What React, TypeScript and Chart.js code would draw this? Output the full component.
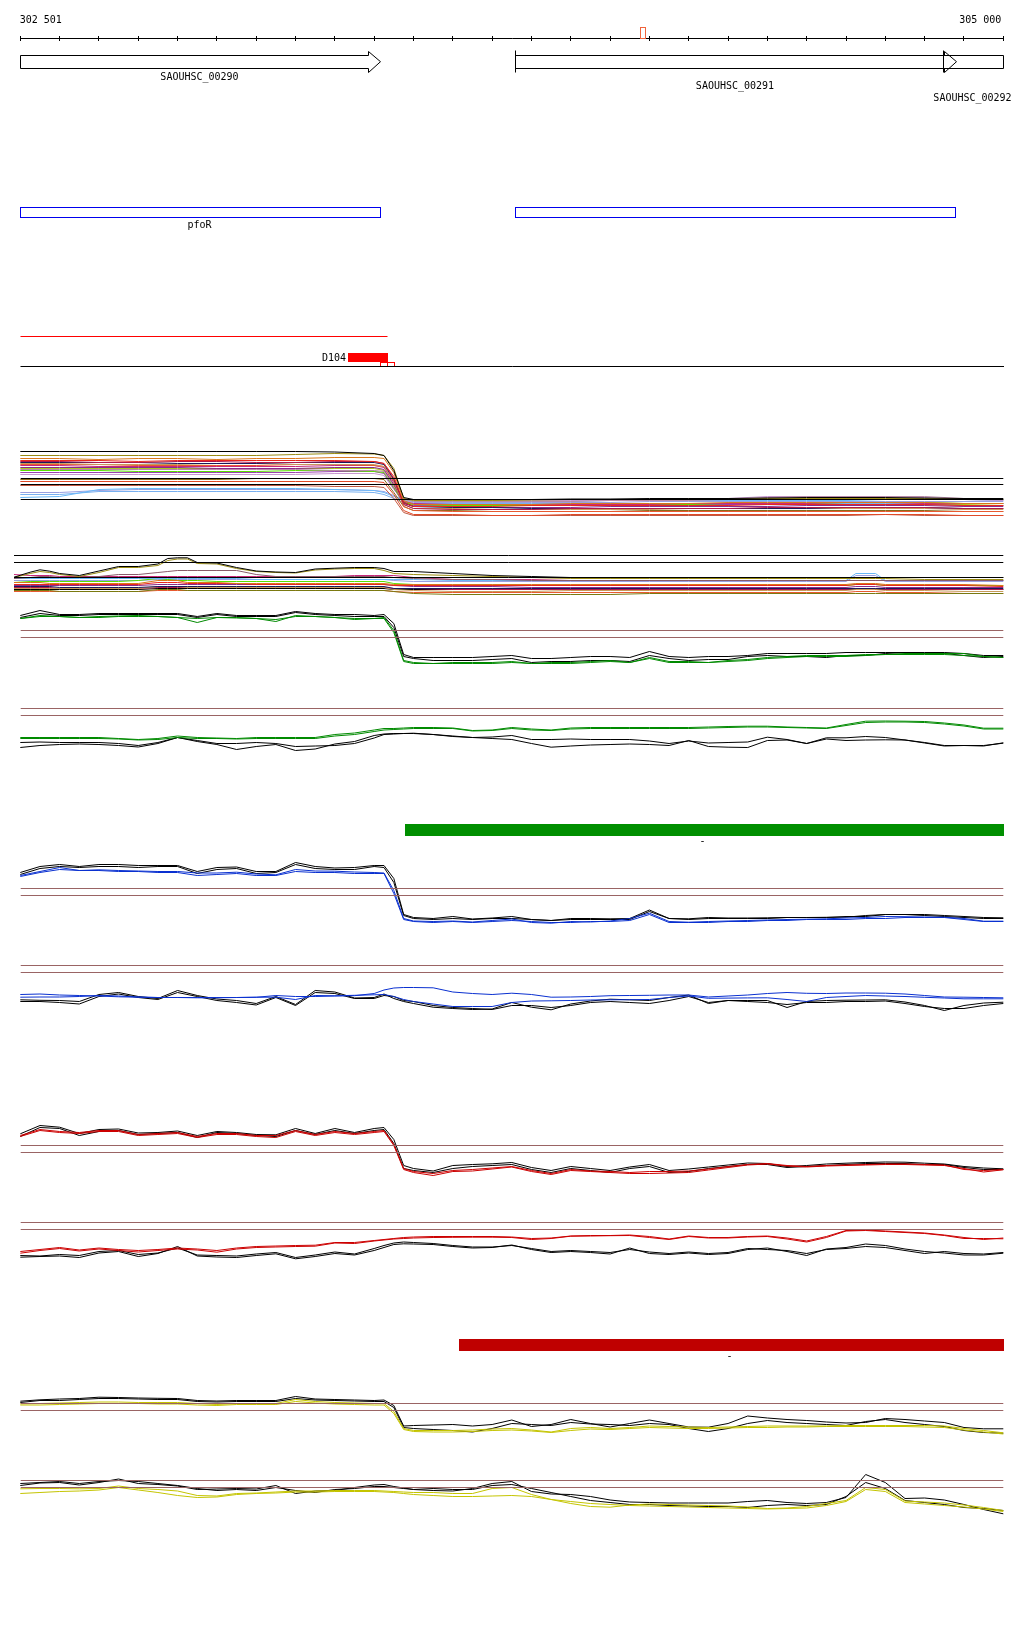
import React, { useEffect, useRef } from "react";
import { Chart, registerables } from "chart.js";

Chart.register(...registerables);

// ---------------- genome window ----------------
const VIEW_START = 302501;
const VIEW_END = 305000;
const RULER_TICKS = [302500, 302600, 302700, 302800, 302900, 303000, 303100, 303200, 303300, 303400, 303500, 303600, 303700, 303800, 303900, 304000, 304100, 304200, 304300, 304400, 304500, 304600, 304700, 304800, 304900, 305000];

// ---------------- annotation tracks ----------------
const GENE_NAMES = ["SAOUHSC_00290", "SAOUHSC_00291", "SAOUHSC_00292"];
const GENE_STARTS = [301820, 303759, 304848];
const GENE_ENDS = [303417, 304880, 305640];

const TU_NAMES = ["pfoR", ""];
const TU_STARTS = [301820, 303759];
const TU_ENDS = [303417, 304879];

const SEGMENT_STARTS = [301820];
const SEGMENT_ENDS = [303434];
const PEAK_LABELS = ["D104"];
const PEAK_STARTS = [303333];
const PEAK_ENDS = [303434];
const SITE_STARTS = [303415, 303434];
const SITE_ENDS = [303434, 303452];
const MARK_STARTS = [304077];
const MARK_ENDS = [304091];

const BAR_LABELS = ["-", "-"];
const BAR_STARTS = [303478, 303616];
const BAR_ENDS = [305600, 305600];

// ---------------- expression profiles ----------------
const THRESH_POS = [302501, 305000];
const THRESH_HI = [0, 0];
const THRESH_LO = [-7, -7];

const MCU_REF_POS = [302501, 305000];
const MCL_REF_POS = [302484, 305000];
const MCU_REF_LEVELS = [6, 0, -15];
const MCL_REF_LEVELS = [7, 0, -15];

// many-condition profile, + strand
const MCU_POS = [302500, 302600, 302700, 302800, 302900, 303000, 303100, 303200, 303300, 303400, 303425, 303450, 303475, 303500, 303600, 303700, 303800, 303900, 304000, 304100, 304200, 304300, 304400, 304500, 304600, 304700, 304800, 304900, 305000];
const MCU_01 = [33, 33, 33, 33, 33, 33, 33, 33, 32.5, 31, 29, 14, -13, -15, -15, -15, -15, -14.5, -14.5, -14, -14, -14, -13.5, -13, -13, -13, -13.5, -14, -14];
const MCU_02 = [29, 29, 29, 29, 29, 29, 29, 30, 31, 30.5, 29, 16, -14, -16, -16, -16, -15.5, -15, -15, -15, -14.5, -14.5, -14, -14, -14, -14, -14, -14.5, -15];
const MCU_03 = [26, 26, 25, 26, 26, 25, 26, 26, 27, 27, 26, 12, -16, -20, -20, -20, -20, -19, -19, -19, -19, -18, -18, -18, -18, -18, -18, -19, -19];
const MCU_04 = [24, 24, 24, 23, 24, 24, 24, 24, 24, 23, 21, 8, -18, -22, -22, -22, -21, -21, -21, -21, -21, -21, -20, -20, -20, -20, -20, -21, -21];
const MCU_05 = [23, 23, 22, 22, 23, 23, 22, 22, 23, 23, 21, 6, -20, -24, -25, -25, -25, -24, -24, -24, -24, -24, -23, -23, -23, -23, -23, -24, -24];
const MCU_06 = [22, 22, 22, 22, 21, 21, 21, 22, 22, 22, 20, 5, -18, -22, -23, -23, -24, -24, -24, -24, -24, -24, -24, -24, -23, -23, -23, -24, -24];
const MCU_07 = [21, 21, 20, 20, 20, 21, 21, 20, 20, 20, 18, 4, -20, -24, -24, -25, -25, -25, -25, -25, -24, -24, -24, -24, -24, -24, -24, -25, -25];
const MCU_08 = [20, 20, 20, 19, 19, 19, 19, 20, 20, 19, 18, 3, -22, -26, -27, -27, -27, -27, -27, -27, -27, -27, -27, -27, -27, -27, -27, -27, -27];
const MCU_09 = [19, 19, 18, 18, 18, 18, 18, 18, 19, 19, 17, 2, -17, -19, -20, -20, -20, -20, -20, -20, -19, -19, -19, -19, -18, -18, -19, -19, -19];
const MCU_10 = [17, 17, 17, 17, 17, 16, 16, 16, 17, 17, 15, 0, -19, -22, -22, -23, -23, -23, -22, -22, -22, -22, -22, -21, -21, -21, -21, -22, -22];
const MCU_11 = [15, 15, 15, 15, 15, 15, 15, 15, 14, 14, 13, -2, -15, -17, -17, -17, -17, -17, -16, -16, -16, -15, -13, -12, -12, -12, -12, -14, -15];
const MCU_12 = [14, 14, 14, 13, 13, 13, 13, 14, 14, 13, 12, -3, -18, -20, -21, -21, -21, -20, -20, -20, -20, -19, -19, -19, -18, -18, -18, -19, -19];
const MCU_13 = [12, 12, 12, 12, 12, 12, 12, 12, 13, 13, 11, -4, -19, -21, -21, -21, -21, -21, -21, -21, -20, -20, -20, -20, -20, -20, -20, -21, -21];
const MCU_14 = [10, 10, 10, 10, 10, 10, 10, 10, 11, 11, 9, -5, -14, -16, -16, -16, -16, -16, -16, -16, -15, -14, -12, -12, -12, -12, -13, -15, -16];
const MCU_15 = [5, 5, 5, 5, 5, 5, 6, 6, 6, 6, 5, -8, -22, -26, -26, -27, -27, -27, -27, -26, -26, -26, -26, -26, -26, -26, -26, -27, -27];
const MCU_16 = [3, 3, 3, 3, 3, 3, 3, 3, 3, 3, 2, -10, -26, -30, -30, -31, -31, -30, -30, -30, -30, -30, -30, -30, -30, -30, -30, -31, -31];
const MCU_17 = [-1, -1, -1, -1, -1, -1, -1, -1, -2, -2, -3, -14, -28, -31, -31, -31, -31, -31, -31, -31, -31, -31, -31, -31, -31, -30, -31, -31, -31];
const MCU_18 = [-13, -12, -5, -4, -4, -4, -4, -4, -5, -6, -8, -12, -15, -17, -17, -17, -17, -17, -16, -16, -16, -16, -16, -16, -16, -15, -14, -15, -16];
const MCU_19 = [-8, -8, -6, -5, -5, -5, -5, -5, -5, -6, -7, -11, -16, -18, -18, -18, -18, -18, -18, -17, -17, -17, -17, -17, -17, -17, -17, -17, -17];
const MCU_20 = [-10, -10, -7, -7, -7, -7, -7, -7, -7, -8, -10, -14, -18, -19, -19, -19, -19, -19, -19, -19, -19, -19, -19, -19, -19, -19, -19, -19, -19];
const MCU_21 = [16, 16, 16, 16, 16, 16, 16, 16, 16, 16, 14, -1, -18, -21, -21, -21, -21, -20, -20, -20, -20, -20, -20, -20, -20, -20, -20, -20, -21];
const MCU_SERIES = [MCU_01, MCU_02, MCU_03, MCU_04, MCU_05, MCU_06, MCU_07, MCU_08, MCU_09, MCU_10, MCU_11, MCU_12, MCU_13, MCU_14, MCU_15, MCU_16, MCU_17, MCU_18, MCU_19, MCU_20, MCU_21];
const MCU_COLORS = ["#000000", "#9a8c12", "#d9771a", "#e8281e", "#b0174a", "#1a1a5a", "#c89a5a", "#e85a30", "#c8287a", "#8a2a8a", "#b88aa8", "#5ae000", "#9a40b0", "#c898d0", "#8a6a1a", "#e04a28", "#c05840", "#68b8f8", "#9aa0e0", "#78b0f0", "#a8c820"];

// many-condition profile, - strand
const MCL_POS = [302484, 302525, 302550, 302575, 302600, 302650, 302700, 302750, 302800, 302850, 302875, 302900, 302925, 302950, 303000, 303050, 303100, 303150, 303200, 303250, 303300, 303350, 303400, 303425, 303450, 303500, 303600, 303700, 303800, 303900, 304000, 304100, 304200, 304300, 304400, 304500, 304600, 304625, 304675, 304700, 304800, 304900, 305000];
const MCL_01 = [-14.7, -9.7, -7.3, -8.7, -11, -13, -8.5, -4, -4, -1.5, 4, 4.7, 4.7, 0, -0.5, -5, -8.5, -9.5, -10, -6.5, -5.7, -5, -5, -6, -9, -9, -11, -13, -14, -15, -15, -15, -15, -15, -15, -15, -15, -15, -15, -15, -15, -15, -15];
const MCL_02 = [-15, -11, -9, -10, -12, -14, -10, -5, -5, -3, 2, 3.5, 3.5, -1, -1.5, -6, -9, -10, -10.5, -7.5, -6.5, -6, -6, -8, -11, -12, -13, -14, -15, -16, -16, -16, -16, -16, -16, -16, -16, -16, -16, -16, -17, -17, -17];
const MCL_03 = [-16, -15, -14, -14, -15, -15, -14, -12, -12, -10, -9, -8, -8, -8, -8, -8, -12, -14, -14, -14, -14, -14, -14, -14, -15, -16, -17, -17, -18, -18, -18, -18, -18, -18, -18, -18, -18, -18, -18, -18, -18, -18, -18];
const MCL_04 = [-12, -13, -13, -13, -14, -14, -14, -14, -14, -14, -14, -14, -14, -14, -14, -14, -14, -14, -14, -14, -14, -13, -13, -13, -13, -15, -17, -17, -17, -18, -18, -18, -18, -18, -18, -18, -18, -18, -18, -18, -18, -18, -18];
const MCL_05 = [-16, -16, -16, -16, -16, -16, -16, -16, -16, -16, -16, -16, -16, -16, -16, -16, -17, -17, -17, -17, -17, -17, -17, -17, -17, -17, -18, -18, -18, -18, -18, -18, -18, -18, -18, -18, -18, -11, -11, -18, -18, -18, -18];
const MCL_06 = [-20, -20, -20, -21, -21, -21, -21, -21, -21, -18, -18, -18, -20, -20, -20, -21, -21, -21, -21, -21, -21, -21, -21, -21, -22, -22, -22, -22, -22, -22, -22, -22, -22, -22, -22, -22, -22, -21, -21, -22, -22, -22, -23];
const MCL_07 = [-22, -22, -22, -22, -22, -22, -22, -22, -22, -20, -20, -20, -21, -21, -21, -21, -22, -22, -22, -22, -22, -22, -22, -22, -23, -23, -23, -23, -23, -23, -23, -23, -23, -23, -23, -23, -23, -22, -22, -23, -23, -23, -24];
const MCL_08 = [-24, -24, -24, -24, -25, -25, -25, -25, -25, -24, -24, -24, -24, -24, -24, -24, -24, -24, -24, -24, -24, -24, -24, -24, -26, -26, -26, -26, -26, -26, -26, -26, -26, -26, -26, -26, -26, -26, -26, -26, -26, -26, -26];
const MCL_09 = [-20, -19, -19, -19, -19, -19, -19, -19, -18, -16, -17, -18, -18, -18, -19, -19, -19, -19, -19, -19, -19, -19, -19, -19, -21, -22, -23, -23, -23, -23, -23, -23, -23, -23, -23, -23, -23, -22, -22, -23, -23, -23, -23];
const MCL_10 = [-26, -26, -26, -26, -26, -26, -26, -26, -26, -24, -24, -24, -25, -25, -25, -25, -25, -25, -25, -25, -25, -25, -25, -25, -27, -28, -29, -29, -29, -28, -28, -28, -28, -28, -28, -28, -28, -27, -27, -28, -28, -29, -29];
const MCL_11 = [-28, -28, -28, -28, -29, -29, -29, -29, -29, -27, -27, -27, -28, -28, -28, -28, -28, -28, -28, -28, -28, -28, -28, -28, -29, -31, -32, -32, -32, -32, -32, -31, -31, -31, -31, -31, -31, -31, -31, -31, -31, -31, -31];
const MCL_12 = [-29, -29, -29, -29, -29, -29, -29, -29, -29, -28, -28, -28, -28, -28, -28, -28, -28, -28, -28, -28, -28, -28, -28, -28, -29, -30, -30, -30, -30, -30, -30, -30, -30, -30, -30, -30, -30, -29, -29, -30, -30, -31, -31];
const MCL_13 = [-23, -23, -23, -23, -23, -23, -23, -23, -23, -22, -22, -22, -22, -22, -22, -22, -22, -22, -22, -22, -22, -22, -22, -22, -23, -24, -24, -24, -25, -25, -25, -25, -25, -25, -25, -25, -25, -24, -24, -25, -25, -25, -25];
const MCL_14 = [-18, -18, -18, -18, -18, -18, -18, -18, -18, -17, -17, -17, -17, -17, -17, -17, -17, -17, -17, -17, -17, -17, -17, -17, -18, -19, -19, -19, -19, -19, -19, -19, -19, -19, -19, -19, -19, -13, -13, -19, -19, -19, -19];
const MCL_15 = [-25, -25, -25, -25, -26, -26, -26, -26, -26, -25, -25, -25, -25, -25, -25, -25, -25, -25, -25, -25, -25, -25, -25, -25, -26, -26, -27, -27, -27, -27, -27, -27, -27, -27, -27, -27, -27, -26, -26, -27, -27, -27, -27];
const MCL_16 = [-27, -27, -27, -27, -27, -27, -27, -27, -27, -26, -26, -26, -26, -26, -26, -26, -26, -26, -26, -26, -26, -26, -26, -26, -27, -27, -27, -27, -27, -27, -27, -27, -27, -27, -27, -27, -27, -27, -27, -27, -27, -27, -27];
const MCL_SERIES = [MCL_01, MCL_02, MCL_03, MCL_04, MCL_05, MCL_06, MCL_07, MCL_08, MCL_09, MCL_10, MCL_11, MCL_12, MCL_13, MCL_14, MCL_15, MCL_16];
const MCL_COLORS = ["#000000", "#9a8c12", "#8a5a6a", "#c8287a", "#68b8f8", "#d9771a", "#e8281e", "#1a1a5a", "#5ae000", "#c89a5a", "#7a7a10", "#e85a30", "#8a2a8a", "#9aa0e0", "#b0174a", "#000000"];

// two-condition profiles (53 positions)
const POS = [302500, 302550, 302600, 302650, 302700, 302750, 302800, 302850, 302900, 302950, 303000, 303050, 303100, 303150, 303200, 303250, 303300, 303350, 303400, 303425, 303450, 303475, 303500, 303550, 303600, 303650, 303700, 303750, 303800, 303850, 303900, 303950, 304000, 304050, 304100, 304150, 304200, 304250, 304300, 304350, 304400, 304450, 304500, 304550, 304600, 304650, 304700, 304750, 304800, 304850, 304900, 304950, 305000];

// green condition
const G_UP_K1 = [15, 20, 16, 16, 17, 17, 17, 17, 17, 14, 17, 15, 15, 15, 19, 17, 16, 16, 15, 16, 7, -24, -27, -27, -27, -27, -26, -25, -28, -28, -27, -26, -26, -27, -21, -26, -27, -26, -26, -25, -23, -23, -23, -23, -22, -22, -22, -22, -22, -22, -23, -25, -25];
const G_UP_K2 = [13, 17, 15, 15, 16, 16, 16, 16, 16, 13, 16, 14, 14, 14, 18, 16, 15, 14, 14, 14, 3, -26, -28, -30, -30, -30, -29, -28, -32, -31, -31, -30, -30, -31, -25, -28, -30, -29, -29, -26, -25, -26, -26, -27, -25, -25, -23, -22, -23, -23, -25, -27, -26];
const G_UP_C1 = [12, 15, 14, 13, 14, 14.5, 15, 14, 13, 8, 13, 12.5, 12, 9, 15, 14, 13, 11, 12, 13, 0, -30, -32, -33, -32, -32, -32, -31, -33, -32, -32, -31, -30, -32, -27, -31, -31, -32, -30, -29, -27, -26, -25, -25, -25, -24, -24, -23, -23, -23, -23, -26, -27];
const G_UP_C2 = [12, 14, 14, 13, 13, 14, 14, 14, 13, 12, 13, 13, 12, 11, 14, 14, 13, 12, 12, 12, -2, -31, -33, -33, -33, -33, -33, -32, -33, -33, -33, -32, -31, -32, -28, -32, -32, -32, -31, -30, -28, -27, -26, -26, -26, -25, -24, -24, -24, -24, -25, -26, -27];
const G_LO_C1 = [-29, -29, -29, -29, -29, -30, -31, -30, -27.5, -29, -29.5, -30, -29, -29, -29, -29, -26, -24.5, -21.5, -20, -20, -19.5, -19, -19, -19.5, -22, -21.5, -19, -20.5, -21.5, -19.5, -19, -19, -19, -19, -19, -19, -18.5, -18, -17.7, -17.7, -18.5, -19, -19.5, -16, -12.7, -12.5, -12.7, -13, -14.5, -16.5, -19.7, -19.7];
const G_LO_C2 = [-30, -30, -30, -30, -30, -30.5, -31.5, -31, -29, -30, -30, -30.5, -30, -30, -30, -30, -27.5, -26, -23, -21.5, -21, -20.5, -20, -20, -20, -22.5, -22, -20, -21.5, -22, -20.5, -20, -20, -20, -20, -20, -20, -19.5, -19, -18.5, -18.5, -19, -19.5, -20, -17, -14, -13.5, -13.5, -14, -15.5, -17.5, -20.5, -20.5];
const G_LO_K1 = [-34, -33.5, -34, -34, -34, -35, -37, -34, -29, -32, -35, -35, -34, -35, -38, -37.5, -37, -35, -29.5, -26, -25.5, -25, -25, -26, -27.5, -29, -28.5, -27, -31, -31, -30.5, -31, -31, -31, -32.5, -35, -32.5, -34.5, -34, -33.5, -28.7, -31, -35, -29.3, -29.3, -28, -29, -31.5, -34.5, -37.5, -37, -37.5, -34.3];
const G_LO_K2 = [-39, -37, -36, -35.5, -36, -37, -38.5, -35, -29, -33, -36, -41, -38, -36, -42, -40.5, -35.5, -33, -27, -25.5, -25, -25, -24.7, -26, -28, -29, -30, -31, -35, -38.7, -37.5, -36.5, -36, -35.5, -36, -37, -32, -38, -38.7, -39, -32, -31.5, -35, -30.5, -32, -31.5, -31.3, -31.5, -34, -37, -37, -37, -34.7];

// blue condition
const B_UP_K1 = [16, 22, 24, 22, 24, 24, 23, 23, 23, 17, 21, 21.5, 17, 17, 26, 22, 20.5, 21, 23, 23, 10, -26, -29, -30, -28, -30.5, -29.5, -28, -31, -32, -30, -30, -30.3, -30, -21.5, -30, -30.3, -29, -29.5, -29.5, -29.3, -29, -29, -28.8, -28.7, -27, -26, -26, -26, -27, -28, -29, -29.3];
const B_UP_K2 = [14, 20, 22, 21, 22, 22, 21, 22, 22, 15, 19, 20, 15, 16, 24, 20, 19, 19, 22, 21, 6, -27, -30, -31, -30, -31, -30, -30, -31, -32, -31, -31, -31, -31, -23, -30, -31, -30, -30, -30, -30, -29, -29, -29, -28, -28, -26, -26, -27, -28, -29, -30, -30];
const B_UP_C1 = [13, 17, 21, 18, 18.7, 18, 17.5, 17, 17, 15.5, 15.5, 16.3, 14.5, 13.7, 19, 17.5, 17.3, 16.5, 16, 15.5, -2, -30, -32.5, -33, -32.5, -33.5, -32, -30.5, -34, -34.7, -33, -33.5, -32.5, -30, -24.7, -33, -33.7, -33, -32.5, -32, -31.5, -31, -30.7, -30.3, -29.5, -29, -28, -28.2, -28.5, -28.7, -30, -32.7, -32.7];
const B_UP_C2 = [12, 16, 19, 18, 18, 17, 17, 16, 16, 13, 14, 15, 13, 13, 17, 16, 16, 15, 15, 15, -5, -31, -33, -34, -33, -34, -33, -32, -33, -34, -34, -33, -33, -32, -26, -34, -34, -34, -33, -33, -32, -32, -31, -31, -31, -30, -30, -29, -29, -29, -31, -33, -33];
const B_LO_C1 = [-29, -28.5, -29.5, -30, -30.5, -31.3, -31.7, -32, -32, -32, -32, -32, -31.8, -30, -31, -31, -30.5, -30.2, -28, -24.5, -22.5, -22, -22, -22.3, -26.5, -28, -29, -27.7, -29, -31.7, -31.5, -31, -30.2, -30, -29.8, -29.5, -29.5, -31.5, -30.5, -29.5, -28, -27, -27.8, -28, -27.5, -27.5, -27.7, -28.5, -30, -31.5, -31.7, -32, -32.3];
const B_LO_C2 = [-31.7, -31.5, -31.5, -31, -30, -30.5, -31.5, -32, -32, -32.3, -32.3, -32, -31.7, -31.7, -34, -30, -30.3, -29.8, -29.3, -29, -31, -34, -36, -38.5, -41, -41, -41, -37, -35.5, -35.3, -35, -34.5, -34.3, -34.2, -34, -32, -30.5, -32.8, -32.6, -32.4, -32.3, -34, -36, -32, -31, -30, -30.5, -31, -31.8, -32.5, -33.3, -33.3, -33.3];
const B_LO_K1 = [-34.3, -34.8, -35, -36, -29, -27, -31, -33, -25, -30, -33.5, -35, -38, -31, -39, -25, -26.5, -32.5, -32, -28.5, -33, -36, -38, -41.7, -43, -44, -43.5, -37, -41.7, -44.3, -38.5, -35.5, -33.7, -34.3, -35, -32, -29.5, -38, -35, -35, -35, -42, -36, -35, -34.7, -34.5, -34.3, -36.5, -40, -45, -40, -37.5, -36.7];
const B_LO_K2 = [-36, -36, -37, -38.5, -31, -28.5, -32, -34, -27, -31, -35, -37, -39.5, -32, -40, -27, -28, -33, -33, -30, -31, -35, -36, -40, -42, -43, -44, -40, -40, -42, -40, -37, -36, -37, -38, -35, -31, -37, -35, -36, -37, -39, -37, -37, -36, -36, -35.5, -38, -41, -43, -43, -40, -38];

// red condition
const R_UP_K1 = [11.7, 20, 18.3, 12, 16, 16.5, 12.5, 13, 14.5, 10, 14, 13, 11, 10.7, 17, 12, 17, 13, 17, 18, 6, -20, -23, -25.5, -20, -19, -18.3, -17, -22, -25, -21, -23, -25, -21.5, -19, -25, -23.5, -21.5, -19.5, -17.5, -18, -21, -20, -18.5, -17.7, -17, -16.5, -16.7, -17.7, -18.5, -21, -22.5, -23.3];
const R_UP_K2 = [9, 18, 17, 10, 14, 15, 11, 12, 13, 8, 13, 12, 10, 9, 15, 11, 15, 12, 15, 16, 2, -23, -25, -27, -23, -21, -20, -19, -24, -27, -23, -25, -27, -23, -21, -27, -26, -23, -21, -19, -19, -22, -21, -20, -19, -18, -18, -18, -19, -19, -22, -24, -24];
const R_UP_C1 = [9, 15, 13, 12, 14, 14, 10, 11, 12, 8, 11, 11, 9, 8, 14, 10, 13, 11, 13, 14, 0, -24, -27, -30, -26, -25.5, -23.5, -21.5, -26, -29, -25, -26, -27, -28, -28, -27.5, -27, -24.5, -22, -19.5, -18.5, -20.5, -21.5, -20.5, -20, -19.5, -19, -19, -19.5, -20, -23, -26.5, -24.3];
const R_UP_C2 = [10, 16, 14, 13, 15, 15, 11, 12, 13, 9, 12, 12, 10, 10, 15, 11, 14, 12, 14, 15, 1, -23, -26, -28, -25, -24, -22.5, -21, -25, -28, -24, -25.5, -26, -27, -26, -26, -25.5, -23.5, -21, -19, -18, -20, -21, -20, -19.5, -19, -18.5, -18.5, -19, -19.5, -24, -25, -24];
const R_LO_C1 = [-30.7, -28, -26, -28.5, -26.5, -28, -29.5, -28, -26.5, -27.5, -29.7, -26.5, -25, -24.5, -24, -23.7, -20.5, -21, -18.5, -17.5, -16.5, -16, -15.5, -15, -14.8, -14.7, -14.7, -15, -17, -16, -13.7, -13.5, -13.2, -13, -15, -17, -14, -15.5, -15.5, -14.5, -14, -16.5, -19.5, -15, -8.5, -8, -9, -10, -11, -13, -16, -16, -16.3];
const R_LO_C2 = [-29, -27, -25, -27.5, -25.5, -27, -28, -27, -25.5, -26.5, -28, -25.5, -24, -23.5, -23, -22.7, -20, -20, -18, -17, -16, -15, -14.5, -14, -14, -14, -14, -14.5, -16, -15.5, -13.5, -13, -13, -12.5, -14, -16.5, -13.5, -15, -15, -14, -13.5, -15.5, -18.5, -14, -8, -7.5, -8.5, -9.5, -10.5, -12.5, -15, -17, -15.5];
const R_LO_K1 = [-34.7, -34, -33.5, -35, -30.5, -29, -34, -31, -24, -33.5, -34.5, -35, -33, -31.3, -36.3, -34, -31, -32.5, -28, -25, -22, -21.3, -21.5, -22, -24, -25.5, -25, -22.5, -27, -30, -29, -30, -31.5, -25.5, -31, -32, -30.5, -32, -31, -27, -25.5, -29, -33, -26.5, -25, -21.5, -23, -26.5, -29, -30.5, -32.5, -32.5, -30.7];
const R_LO_K2 = [-33, -33.5, -32, -33, -29, -28, -32, -30.5, -25.5, -32.5, -33, -33.5, -31.5, -30, -35, -32.5, -29.5, -31.5, -26, -23, -20.5, -19.5, -20, -21, -23, -24.5, -24.5, -23, -26, -29, -28, -29, -30, -27, -29.5, -31, -29.5, -31, -30, -26, -27, -28, -31, -27, -26, -24, -25, -28, -31, -29, -31, -31.5, -30];

// yellow condition
const Y_UP_K1 = [2.3, 3.7, 4.5, 5, 6.3, 6, 5.5, 5.2, 5, 3, 2.5, 3, 3, 3, 7, 4.5, 4, 3.5, 3, 3.5, -2, -22.5, -22, -21.5, -21, -22.5, -21, -16.5, -23, -21, -16, -20, -23.5, -20, -16.5, -20, -23.5, -23.7, -20, -12.5, -14.5, -16, -17, -18.5, -19.5, -19, -15, -16, -17.5, -19, -24, -25.3, -25.3];
const Y_UP_K2 = [1, 3, 3, 4, 5, 5, 4.5, 4, 4, 2, 1.5, 2, 2, 2, 5, 3.5, 3, 2.5, 2, 2, -4, -24, -25, -26, -27, -28.5, -25, -20, -21, -22, -19, -20.5, -21, -22, -20, -21, -25, -28, -25, -20, -17, -19, -20, -21, -22, -18, -16, -19, -21, -23, -27, -29, -29.7];
const Y_UP_C1 = [-0.3, 0, 0.5, 1, 1.5, 1.5, 1, 1, 1, 0, -1, 0, 0, 0, 4, 2, 1, 0.5, 0, 0, -8, -25, -27, -27, -27, -26.5, -25.5, -25, -26.5, -28.5, -25, -24, -25, -24, -22.5, -23, -23.5, -24, -23.5, -23, -22.5, -22.5, -22.5, -22.5, -22, -22, -22, -22, -22, -22.5, -25, -27, -29.3];
const Y_UP_C2 = [-1.5, -1.5, -1, -0.5, 0, 0, 0, -0.5, -0.5, -1.5, -2, -1, -1, -1, 2, 0.5, -0.5, -1, -1.5, -1.5, -10, -26, -28, -28.5, -28.5, -28, -27, -26.5, -27.5, -29, -27, -25.5, -26, -25, -24, -24.5, -25, -25, -24.5, -24, -24, -23.5, -23.5, -23, -23, -23, -23, -23, -23.5, -24, -26.5, -28.5, -30.5];
const Y_LO_K1 = [-5, -2.5, -2, -4.5, -2, 1.5, -3, -4, -5.5, -9, -8.5, -8, -8.5, -5, -13, -10.5, -10, -7, -4.5, -4, -6, -7.5, -9, -10, -10.5, -8, -3, -1, -11, -13.5, -14, -16, -19.5, -21.5, -22, -22.5, -22.5, -22.5, -22.5, -21, -20, -22, -23, -22, -17, 6, -2, -18, -17.5, -19.5, -24, -29, -33.3];
const Y_LO_K2 = [-3, -2, -1, -3, -1, 0, -1, -3, -5, -8, -10, -9, -10, -7, -10, -12, -9, -8, -6, -6, -7, -8, -9, -8, -9, -9, -5, -4, -8, -12, -16, -20, -22, -24, -24, -25, -25.5, -26, -26, -27, -25, -24, -25, -24, -16, -2, -8, -20, -22, -24, -27, -28, -30];
const Y_LO_C1 = [-8.3, -8, -8, -8.3, -8, -5.5, -8, -9, -10.5, -15, -15.5, -13, -12.5, -11.5, -10.5, -10.5, -10, -10, -10, -10.5, -11, -11.5, -12, -12, -13, -13, -8, -7, -14, -19, -23, -26, -26.7, -24.5, -23.5, -24, -24.5, -25, -25.5, -26.5, -28, -27.5, -26, -23, -20, -7, -9, -20.5, -21.5, -22.5, -24.5, -27, -30];
const Y_LO_C2 = [-13, -12, -11, -10.5, -9.5, -7, -9.5, -12, -15, -17, -16.5, -14, -13, -12.5, -11.5, -11.5, -11, -11, -11, -11.5, -12, -13, -14, -15, -16, -16, -15.5, -15, -16, -19, -21, -23, -24, -25, -25.5, -26, -26.5, -27, -27.5, -28, -28.5, -28, -27.5, -25, -21, -9, -11, -22, -23.5, -25, -26.5, -28.5, -31];

// ---------------- styles / layout ----------------
const FONT = "10px 'DejaVu Sans Mono', 'Liberation Mono', monospace";
const COLORS = {
  green: "#008a00",
  blue: "#0a30d0",
  red: "#cc0000",
  yellow: "#c4c400",
  black: "#000000",
  brown: "#9a6464",
  tu: "#0000ee",
  segment: "#ff0000",
  mark: "#f0643c",
  greenBar: "#008f00",
  redBar: "#bf0000",
};
const LAYOUT = {
  width: 1024,
  height: 1640,
  plotLeftPx: 20.3,
  plotRightPx: 1003.3,
  rulerLabelY: 20.5,
  rulerY: 38,
  tickUp: 2,
  tickDown: 3,
  markTop: 27,
  markBottom: 38,
  geneY: 61.7,
  geneBoxHalf: 6.5,
  geneHeadHalf: 10.5,
  geneHeadLen: 12,
  geneBarHalf: 11,
  geneLabelY: [77, 86, 98],
  tuTop: 207,
  tuBottom: 217,
  tuLabelY: 225,
  segmentY: 336,
  peakTop: 353,
  peakBottom: 362,
  peakLabelY: 358,
  siteTop: 362,
  siteBottom: 366,
  separatorY: 366,
  barTops: [824, 1339],
  barBottoms: [836, 1351],
  barLabelY: [841, 1356],
  refs: { mu: 484.5, ml: 562.5, gu: 630.5, gl: 708.5, bu: 888.5, bl: 965.5, ru: 1145.5, rl: 1222.5, yu: 1403.5, yl: 1480.5 },
};

const fmt = (n: number) => String(n).replace(/\B(?=(\d{3})+(?!\d))/g, " ");

const trackPlugin = {
  id: "genomeTracks",
  afterDatasetsDraw(chart: any) {
    const ctx: CanvasRenderingContext2D = chart.ctx;
    const xs = chart.scales.x;
    const ys = chart.scales.yPage;
    const X = (p: number) => xs.getPixelForValue(Math.min(Math.max(p, VIEW_START), VIEW_END));
    const Y = (v: number) => ys.getPixelForValue(v);
    const s = (v: number) => Math.floor(v) + 0.5;
    const L = LAYOUT;
    ctx.save();
    ctx.lineWidth = 1;
    ctx.font = FONT;
    ctx.textBaseline = "middle";
    ctx.fillStyle = COLORS.black;
    ctx.strokeStyle = COLORS.black;

    // ruler
    ctx.textAlign = "left";
    ctx.fillText(fmt(VIEW_START), X(VIEW_START) - 1, Y(L.rulerLabelY));
    ctx.textAlign = "right";
    ctx.fillText(fmt(VIEW_END), X(VIEW_END) - 2, Y(L.rulerLabelY));
    ctx.beginPath();
    const ry = s(Y(L.rulerY));
    ctx.moveTo(s(X(VIEW_START)), ry);
    ctx.lineTo(s(X(VIEW_END)) + 0.5, ry);
    RULER_TICKS.forEach((t) => {
      const x = s(X(t));
      ctx.moveTo(x, Y(L.rulerY) - L.tickUp);
      ctx.lineTo(x, Y(L.rulerY) + L.tickDown);
    });
    ctx.stroke();

    // marker above ruler
    ctx.strokeStyle = COLORS.mark;
    MARK_STARTS.forEach((a, i) => {
      const x0 = s(X(a));
      const x1 = s(X(MARK_ENDS[i]));
      ctx.strokeRect(x0, s(Y(L.markTop)), x1 - x0, Y(L.markBottom) - Y(L.markTop));
    });

    // genes
    ctx.strokeStyle = COLORS.black;
    ctx.textAlign = "center";
    GENE_NAMES.forEach((name, i) => {
      const a = GENE_STARTS[i];
      const b = GENE_ENDS[i];
      const startIn = a >= VIEW_START;
      const endIn = b <= VIEW_END;
      const x0 = s(X(a));
      const x1 = s(X(b));
      const cy = Y(L.geneY);
      const top = s(cy - L.geneBoxHalf);
      const bot = s(cy + L.geneBoxHalf);
      ctx.beginPath();
      if (endIn) {
        const hb = x1 - L.geneHeadLen;
        ctx.moveTo(x0, top);
        ctx.lineTo(hb, top);
        ctx.lineTo(hb, s(cy - L.geneHeadHalf));
        ctx.lineTo(x1, cy);
        ctx.lineTo(hb, s(cy + L.geneHeadHalf));
        ctx.lineTo(hb, bot);
        ctx.lineTo(x0, bot);
        ctx.closePath();
      } else {
        ctx.rect(x0, top, x1 - x0, bot - top);
      }
      if (startIn) {
        ctx.moveTo(x0, s(cy - L.geneBarHalf));
        ctx.lineTo(x0, s(cy + L.geneBarHalf));
      }
      ctx.stroke();
      ctx.fillText(name, (x0 + x1) / 2 - 1, Y(L.geneLabelY[i]));
    });

    // transcription units
    ctx.strokeStyle = COLORS.tu;
    TU_NAMES.forEach((name, i) => {
      const x0 = s(X(TU_STARTS[i]));
      const x1 = s(X(TU_ENDS[i]));
      ctx.strokeRect(x0, s(Y(L.tuTop)), x1 - x0, Y(L.tuBottom) - Y(L.tuTop));
      if (name) ctx.fillText(name, (x0 + x1) / 2 - 1, Y(L.tuLabelY));
    });

    // segment line
    ctx.strokeStyle = COLORS.segment;
    ctx.beginPath();
    SEGMENT_STARTS.forEach((a, i) => {
      ctx.moveTo(s(X(a)), s(Y(L.segmentY)));
      ctx.lineTo(s(X(SEGMENT_ENDS[i])), s(Y(L.segmentY)));
    });
    ctx.stroke();

    // peak
    PEAK_STARTS.forEach((a, i) => {
      const x0 = Math.round(X(a));
      const x1 = Math.round(X(PEAK_ENDS[i]));
      ctx.fillStyle = COLORS.segment;
      ctx.fillRect(x0, Y(L.peakTop), x1 - x0, Y(L.peakBottom) - Y(L.peakTop));
      ctx.fillStyle = COLORS.black;
      ctx.textAlign = "right";
      ctx.fillText(PEAK_LABELS[i], x0 - 2, Y(L.peakLabelY));
    });
    SITE_STARTS.forEach((a, i) => {
      const x0 = s(X(a));
      const x1 = s(X(SITE_ENDS[i]));
      ctx.strokeRect(x0, s(Y(L.siteTop)), x1 - x0, Y(L.siteBottom) - Y(L.siteTop));
    });

    // separator
    ctx.strokeStyle = COLORS.black;
    ctx.beginPath();
    ctx.moveTo(s(X(VIEW_START)), s(Y(L.separatorY)));
    ctx.lineTo(s(X(VIEW_END)) + 0.5, s(Y(L.separatorY)));
    ctx.stroke();

    // condition bars
    const barColors = [COLORS.greenBar, COLORS.redBar];
    ctx.textAlign = "center";
    BAR_STARTS.forEach((a, i) => {
      const x0 = Math.round(X(a));
      const x1 = Math.round(X(BAR_ENDS[i])) + 1;
      ctx.fillStyle = barColors[i];
      ctx.fillRect(x0, Y(L.barTops[i]), x1 - x0, Y(L.barBottoms[i]) - Y(L.barTops[i]));
      ctx.fillStyle = COLORS.black;
      ctx.textBaseline = "alphabetic";
      ctx.fillText(BAR_LABELS[i], (x0 + x1) / 2 - 2, Y(L.barLabelY[i]) + 3);
      ctx.textBaseline = "middle";
    });
    ctx.restore();
  },
};

const pts = (xs: number[], ys: number[]) => ys.map((y, i) => ({ x: xs[i], y }));
const line = (xs: number[], ys: number[], color: string, axis: string) => ({
  data: pts(xs, ys),
  borderColor: color,
  backgroundColor: color,
  borderWidth: 1,
  pointRadius: 0,
  fill: false,
  tension: 0,
  yAxisID: axis,
});

function buildDatasets() {
  const ds: any[] = [];
  MCU_REF_LEVELS.forEach((lv) => ds.push(line(MCU_REF_POS, [lv, lv], COLORS.black, "mu")));
  MCL_REF_LEVELS.forEach((lv) => ds.push(line(MCL_REF_POS, [lv, lv], COLORS.black, "ml")));
  ["gu", "gl", "bu", "bl", "ru", "rl", "yu", "yl"].forEach((ax) => {
    ds.push(line(THRESH_POS, THRESH_HI, COLORS.brown, ax));
    ds.push(line(THRESH_POS, THRESH_LO, COLORS.brown, ax));
  });
  MCU_SERIES.forEach((ys, i) => ds.push(line(MCU_POS, ys, MCU_COLORS[i], "mu")));
  MCL_SERIES.forEach((ys, i) => ds.push(line(MCL_POS, ys, MCL_COLORS[i], "ml")));
  const two: [number[], string, string][] = [
    [G_UP_C1, COLORS.green, "gu"], [G_UP_C2, COLORS.green, "gu"], [G_UP_K1, COLORS.black, "gu"], [G_UP_K2, COLORS.black, "gu"],
    [G_LO_C1, COLORS.green, "gl"], [G_LO_C2, COLORS.green, "gl"], [G_LO_K1, COLORS.black, "gl"], [G_LO_K2, COLORS.black, "gl"],
    [B_UP_C1, COLORS.blue, "bu"], [B_UP_C2, COLORS.blue, "bu"], [B_UP_K1, COLORS.black, "bu"], [B_UP_K2, COLORS.black, "bu"],
    [B_LO_C1, COLORS.blue, "bl"], [B_LO_C2, COLORS.blue, "bl"], [B_LO_K1, COLORS.black, "bl"], [B_LO_K2, COLORS.black, "bl"],
    [R_UP_C1, COLORS.red, "ru"], [R_UP_C2, COLORS.red, "ru"], [R_UP_K1, COLORS.black, "ru"], [R_UP_K2, COLORS.black, "ru"],
    [R_LO_C1, COLORS.red, "rl"], [R_LO_C2, COLORS.red, "rl"], [R_LO_K1, COLORS.black, "rl"], [R_LO_K2, COLORS.black, "rl"],
    [Y_UP_C1, COLORS.yellow, "yu"], [Y_UP_C2, COLORS.yellow, "yu"], [Y_UP_K1, COLORS.black, "yu"], [Y_UP_K2, COLORS.black, "yu"],
    [Y_LO_C1, COLORS.yellow, "yl"], [Y_LO_C2, COLORS.yellow, "yl"], [Y_LO_K1, COLORS.black, "yl"], [Y_LO_K2, COLORS.black, "yl"],
  ];
  two.forEach(([ys, c, ax]) => ds.push(line(POS, ys, c, ax)));
  return ds;
}

function buildScales() {
  const bpPerPx = (305000 - 302500) / (LAYOUT.plotRightPx - LAYOUT.plotLeftPx);
  const xMin = 302500 - LAYOUT.plotLeftPx * bpPerPx;
  const xMax = xMin + LAYOUT.width * bpPerPx;
  const scales: any = {
    x: { type: "linear", axis: "x", position: "bottom", min: xMin, max: xMax, display: false, bounds: "data" },
    yPage: { type: "linear", axis: "y", position: "left", min: 0, max: LAYOUT.height, reverse: true, display: false, bounds: "data" },
  };
  Object.entries(LAYOUT.refs).forEach(([k, ref]) => {
    scales[k] = { type: "linear", axis: "y", position: "left", min: (ref as number) - LAYOUT.height, max: ref, display: false, bounds: "data" };
  });
  return scales;
}

export default function App() {
  const ref = useRef<HTMLCanvasElement | null>(null);
  useEffect(() => {
    document.body.style.margin = "0";
    const canvas = ref.current;
    if (!canvas) return;
    const chart = new Chart(canvas, {
      type: "line",
      data: { datasets: buildDatasets() },
      options: {
        animation: false,
        responsive: false,
        maintainAspectRatio: false,
        devicePixelRatio: 1,
        events: [],
        layout: { padding: 0 },
        scales: buildScales(),
        plugins: { legend: { display: false }, tooltip: { enabled: false } },
        elements: { line: { borderJoinStyle: "round" } },
      },
      plugins: [trackPlugin],
    } as any);
    return () => chart.destroy();
  }, []);
  return (
    <div style={{ position: "absolute", left: 0, top: 0, width: LAYOUT.width, height: LAYOUT.height, background: "#ffffff" }}>
      <canvas ref={ref} width={LAYOUT.width} height={LAYOUT.height} style={{ display: "block", width: LAYOUT.width, height: LAYOUT.height }} />
    </div>
  );
}
